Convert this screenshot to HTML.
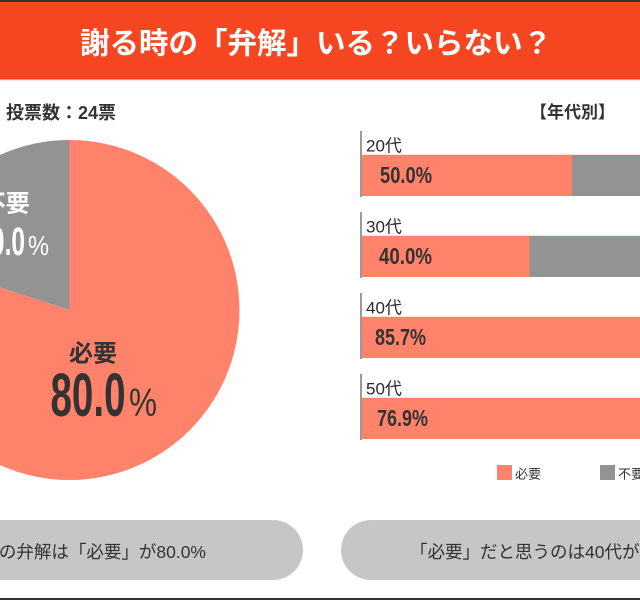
<!DOCTYPE html>
<html><head><meta charset="utf-8"><style>
html,body{margin:0;padding:0;background:#fff;}
svg{display:block;}
text{font-family:"Liberation Sans","Noto Sans CJK JP",sans-serif;}
</style></head><body>
<svg width="640" height="600" viewBox="0 0 640 600" xmlns="http://www.w3.org/2000/svg">
<rect x="0" y="0" width="640" height="600" fill="#fff"/>
<!-- header -->
<rect x="0" y="0" width="640" height="2" fill="#333"/>
<rect x="0" y="2" width="640" height="77.5" fill="#F64621"/>
<rect x="0" y="79.5" width="640" height="1" fill="#fcd2c6"/>
<text x="80" y="53.5" font-size="29.5" font-weight="bold" fill="#fff">謝る時の「弁解」いる？いらない？</text>

<text x="6" y="119" font-size="18" font-weight="bold" fill="#333">投票数：24票</text>
<text x="530" y="118" font-size="17" font-weight="bold" fill="#333">【年代別】</text>

<!-- pie -->
<path d="M69.5 310 L69.5 140 A170 170 0 1 1 -92.2 257.5 Z" fill="#FF826A"/>
<path d="M69.5 310 L-92.2 257.5 A170 170 0 0 1 69.5 140 Z" fill="#939393"/>

<text x="-18.3" y="211.5" font-size="24" font-weight="bold" fill="#fff">不要</text>
<text x="-22.7" y="255" font-size="39.5" font-weight="bold" fill="#fff" textLength="47.7" lengthAdjust="spacingAndGlyphs">20.0</text>
<text x="28" y="255" font-size="28" fill="#fff" textLength="21" lengthAdjust="spacingAndGlyphs">%</text>

<text x="69" y="361.5" font-size="24" font-weight="bold" fill="#333">必要</text>
<text x="50.5" y="416" font-size="61.5" font-weight="bold" fill="#333" textLength="75" lengthAdjust="spacingAndGlyphs">80.0</text>
<text x="129" y="416" font-size="39" fill="#333" textLength="28" lengthAdjust="spacingAndGlyphs">%</text>

<!-- bars -->
<g>
<rect x="360" y="131" width="2" height="66" fill="#9a9a9a"/>
<text x="366" y="151.5" font-size="17" fill="#2a2a2a">20代</text>
<rect x="362" y="154" width="278" height="1" fill="#fde3dc"/>
<rect x="362" y="155" width="210" height="41" fill="#FF826A"/>
<rect x="572" y="155" width="68" height="41" fill="#939393"/>
<text x="380" y="183" font-size="23" font-weight="bold" fill="#333" textLength="52" lengthAdjust="spacingAndGlyphs">50.0%</text>
</g>
<g>
<rect x="360" y="212" width="2" height="66" fill="#9a9a9a"/>
<text x="366" y="232.5" font-size="17" fill="#2a2a2a">30代</text>
<rect x="362" y="235" width="278" height="1" fill="#fde3dc"/>
<rect x="362" y="236" width="167.5" height="41" fill="#FF826A"/>
<rect x="529.5" y="236" width="110.5" height="41" fill="#939393"/>
<text x="379" y="264" font-size="23" font-weight="bold" fill="#333" textLength="53" lengthAdjust="spacingAndGlyphs">40.0%</text>
</g>
<g>
<rect x="360" y="293" width="2" height="66" fill="#9a9a9a"/>
<text x="366" y="313.5" font-size="17" fill="#2a2a2a">40代</text>
<rect x="362" y="316" width="278" height="1" fill="#fde3dc"/>
<rect x="362" y="317" width="278" height="41" fill="#FF826A"/>
<text x="375" y="345" font-size="23" font-weight="bold" fill="#333" textLength="51" lengthAdjust="spacingAndGlyphs">85.7%</text>
</g>
<g>
<rect x="360" y="374" width="2" height="66" fill="#9a9a9a"/>
<text x="366" y="394.5" font-size="17" fill="#2a2a2a">50代</text>
<rect x="362" y="397" width="278" height="1" fill="#fde3dc"/>
<rect x="362" y="398" width="278" height="41" fill="#FF826A"/>
<text x="377" y="426" font-size="23" font-weight="bold" fill="#333" textLength="51" lengthAdjust="spacingAndGlyphs">76.9%</text>
</g>

<!-- legend -->
<rect x="497" y="465" width="15" height="15" fill="#FF826A"/>
<text x="515" y="478.5" font-size="13" fill="#333">必要</text>
<rect x="600" y="465" width="15" height="15" fill="#939393"/>
<text x="618" y="478.5" font-size="13" fill="#333">不要</text>

<!-- pills -->
<rect x="-60" y="520" width="363" height="60" rx="30" ry="30" fill="#C6C6C6"/>
<rect x="341" y="520" width="400" height="60" rx="30" ry="30" fill="#C6C6C6"/>
<text x="206" y="558" font-size="17.5" fill="#333" text-anchor="end">謝る時の弁解は「必要」が80.0%</text>
<text x="410" y="558" font-size="17.5" fill="#333">「必要」だと思うのは40代が最多</text>

<rect x="0" y="598" width="640" height="2" fill="#333"/>
</svg>
</body></html>
